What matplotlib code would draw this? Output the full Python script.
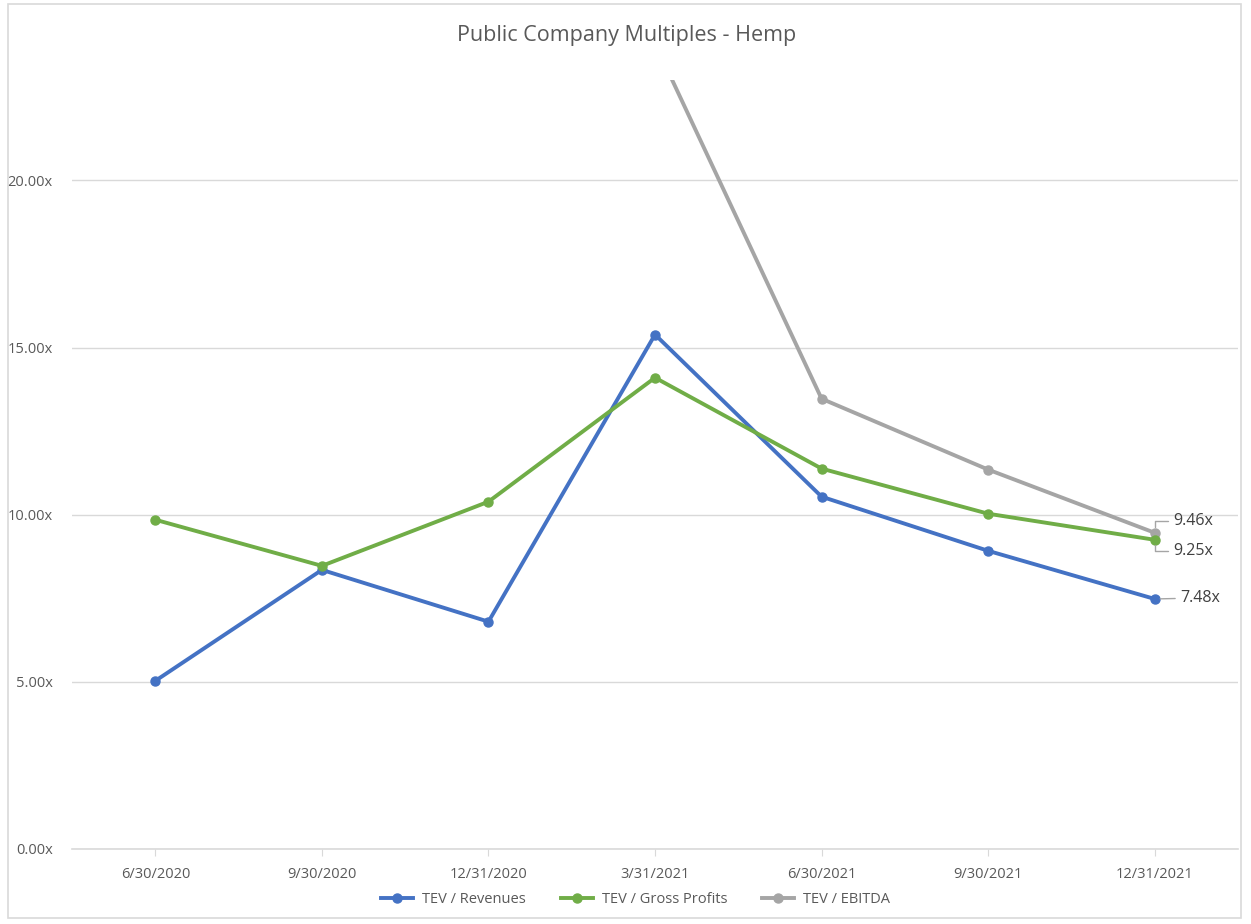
import matplotlib
matplotlib.use('Agg')
import matplotlib.pyplot as plt
from matplotlib.patches import Rectangle
from matplotlib.ticker import FuncFormatter
import numpy as np

# chart data
quarters = ['6/30/2020', '9/30/2020', '12/31/2020', '3/31/2021',
            '6/30/2021', '9/30/2021', '12/31/2021']
tev_revenues = [5.03, 8.35, 6.80, 15.39, 10.54, 8.92, 7.48]
tev_gross = [9.85, 8.47, 10.39, 14.10, 11.38, 10.03, 9.25]
tev_ebitda = [np.nan, np.nan, np.nan, 24.10, 13.47, 11.35, 9.46]
yticks = [0, 5, 10, 15, 20]

plt.rcParams['font.family'] = ['Open Sans', 'DejaVu Sans']

fig = plt.figure(figsize=(12.51, 9.24), dpi=100)
ax = fig.add_axes([0.0576, 0.0812, 0.932, 0.832])

# outer chart border
fig.patches.append(Rectangle((0.006, 0.006), 0.986, 0.99, transform=fig.transFigure,
                             fill=False, edgecolor='#D9D9D9', linewidth=1.2))

x = np.arange(len(quarters))
blue, green, gray = '#4472C4', '#70AD47', '#A5A5A5'
ax.plot(x, tev_revenues, color=blue, lw=2.8, marker='o', ms=6.5, label='TEV / Revenues', zorder=3)
ax.plot(x, tev_gross, color=green, lw=2.8, marker='o', ms=6.5, label='TEV / Gross Profits', zorder=3)
ax.plot(x, tev_ebitda, color=gray, lw=2.8, marker='o', ms=6.5, label='TEV / EBITDA', zorder=2)

ax.set_xlim(-0.5, len(quarters) - 0.5)
ax.set_ylim(0, 23)
ax.set_yticks(yticks)
ax.yaxis.set_major_formatter(FuncFormatter(lambda v, p: '%.2fx' % v))
ax.set_xticks(x)
ax.set_xticklabels(quarters)
ax.grid(axis='y', color='#D9D9D9', lw=1)
ax.set_axisbelow(True)
for s in ['top', 'right', 'left']:
    ax.spines[s].set_visible(False)
ax.spines['bottom'].set_color('#D9D9D9')
ax.spines['bottom'].set_linewidth(1.2)
ax.tick_params(axis='y', length=0, pad=14, labelsize=10.5, labelcolor='#595959')
ax.tick_params(axis='x', length=5, color='#D9D9D9', pad=8, labelsize=10.5, labelcolor='#595959')

# end labels with leader lines
last = len(quarters) - 1
lead = dict(arrowstyle='-', color='#A5A5A5', lw=1, shrinkA=2, shrinkB=4)
lbl = dict(textcoords='offset pixels', va='center', ha='left', fontsize=11.5, color='#404040')
ax.annotate('%.2fx' % tev_ebitda[last], (last, tev_ebitda[last]), xytext=(19, 12),
            arrowprops=dict(lead, connectionstyle='angle,angleA=0,angleB=90,rad=0'), **lbl)
ax.annotate('%.2fx' % tev_gross[last], (last, tev_gross[last]), xytext=(19, -11),
            arrowprops=dict(lead, connectionstyle='angle,angleA=0,angleB=90,rad=0'), **lbl)
ax.annotate('%.2fx' % tev_revenues[last], (last, tev_revenues[last]), xytext=(26, 1),
            arrowprops=dict(lead), **lbl)

fig.text(0.501, 0.962, 'Public Company Multiples - Hemp', fontsize=15.5, color='#595959',
         ha='center', va='center')

fig.legend(loc='lower center', bbox_to_anchor=(0.508, 0.004), ncol=3, frameon=False,
           fontsize=10.5, labelcolor='#595959', handlelength=2.2, handletextpad=0.6,
           columnspacing=2.4)

fig.savefig('out.png', dpi=100)
